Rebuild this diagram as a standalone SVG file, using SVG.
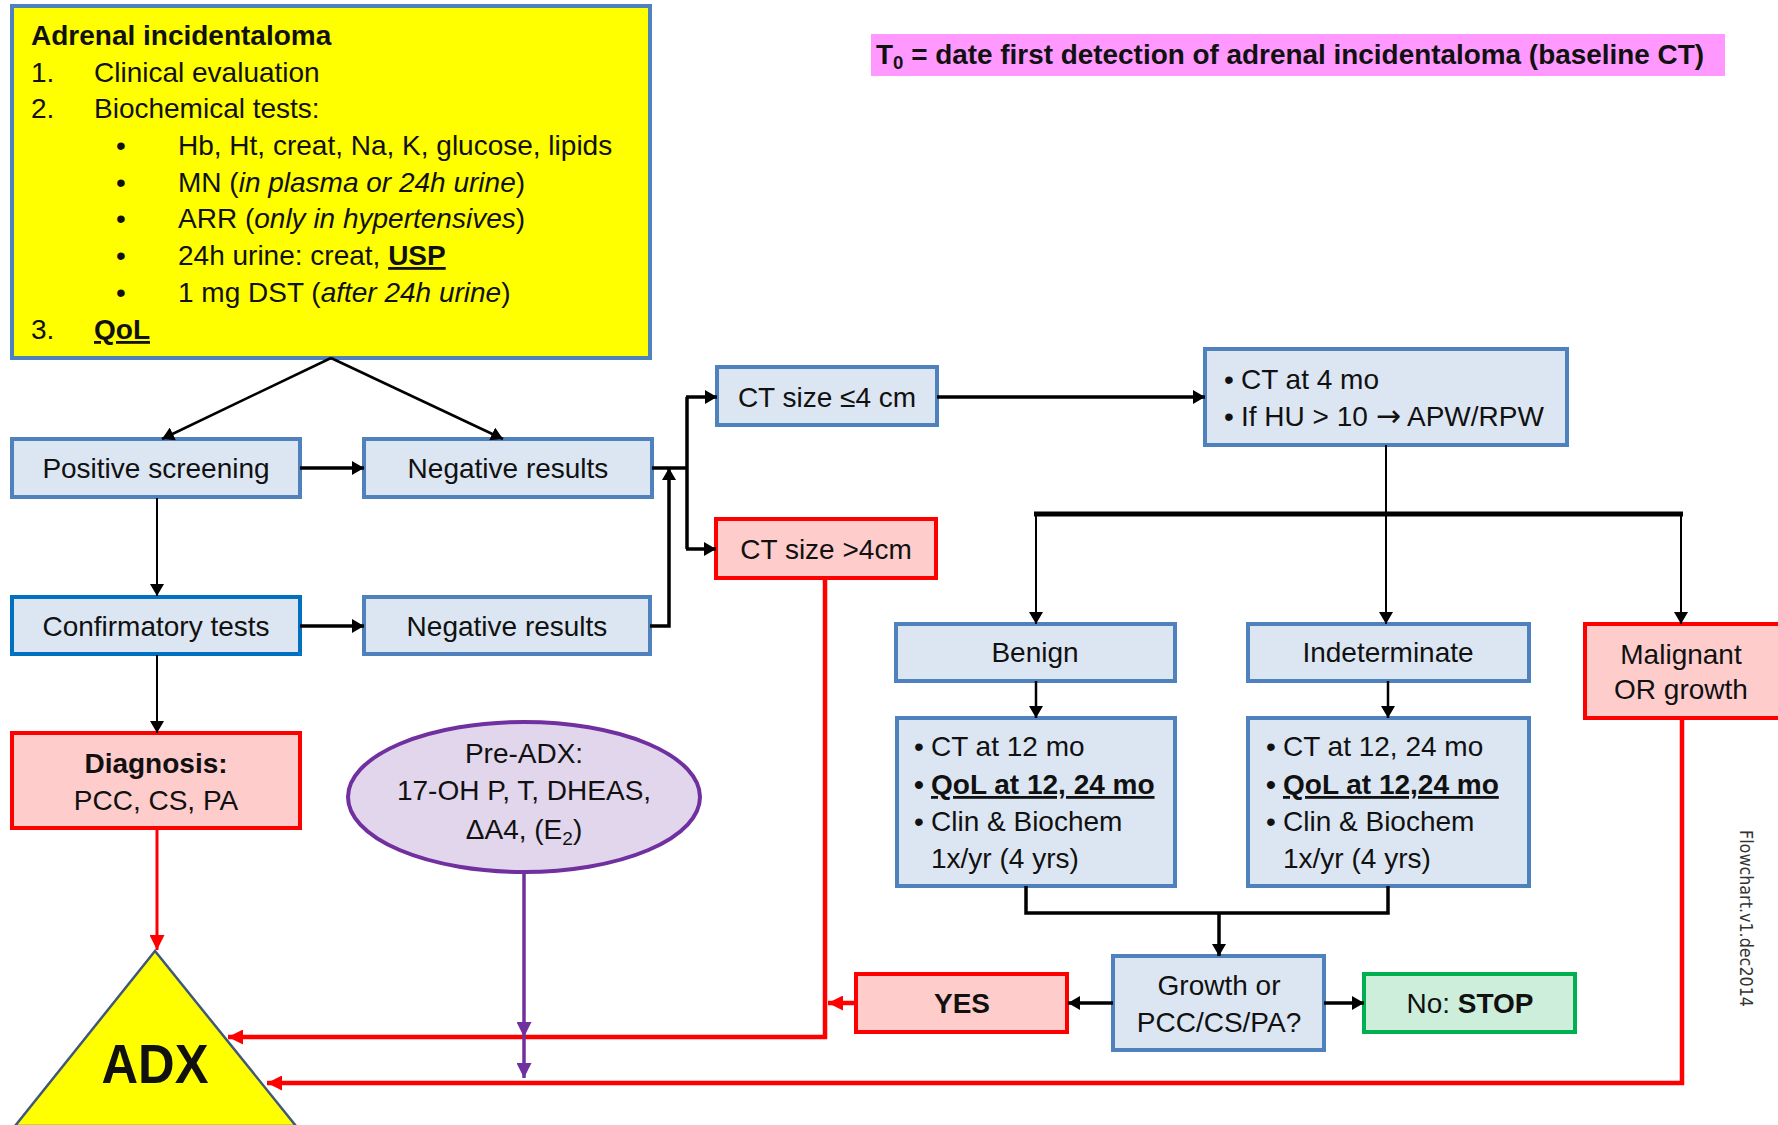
<svg xmlns="http://www.w3.org/2000/svg" width="1778" height="1125" viewBox="0 0 1778 1125">
<style>
  text { font-family: "Liberation Sans", Arial, sans-serif; font-size: 28px; fill: #111; }
  .c { text-anchor: middle; }
  .b { font-weight: bold; }
  .i { font-style: italic; }
  .u { text-decoration: underline; }
  .blue { fill: #DCE6F2; stroke: #4F81BD; stroke-width: 4; }
  .blue2 { fill: #DCE6F2; stroke: #0070C0; stroke-width: 4; }
  .red { fill: #FFCCCC; stroke: #FF0000; stroke-width: 4; }
  .green { fill: #CCEEDA; stroke: #00B050; stroke-width: 4; }
  .k1 { fill: none; stroke: #000; stroke-width: 2; }
  .k2 { fill: none; stroke: #000; stroke-width: 3.5; }
  .r1 { fill: none; stroke: #FF0000; stroke-width: 3; }
  .r2 { fill: none; stroke: #FF0000; stroke-width: 4.5; }
  .p1 { fill: none; stroke: #7030A0; stroke-width: 3.5; }
</style>
<defs>
  <marker id="ak" viewBox="0 0 12 14" refX="12" refY="7" markerWidth="12" markerHeight="14" markerUnits="userSpaceOnUse" orient="auto"><path d="M0,0 L12,7 L0,14 z" fill="#000"/></marker>
  <marker id="ar" viewBox="0 0 12 12" refX="12" refY="6" markerWidth="15" markerHeight="15" markerUnits="userSpaceOnUse" orient="auto"><path d="M0,0 L12,6 L0,12 z" fill="#FF0000"/></marker>
  <marker id="ap" viewBox="0 0 12 12" refX="12" refY="6" markerWidth="15" markerHeight="15" markerUnits="userSpaceOnUse" orient="auto"><path d="M0,0 L12,6 L0,12 z" fill="#7030A0"/></marker>
</defs>
<rect width="1778" height="1125" fill="#fff"/>

<g id="start">
  <rect x="12" y="6" width="638" height="352" fill="#FFFF00" stroke="#4F81BD" stroke-width="4"/>
  <text x="31" y="45" class="b">Adrenal incidentaloma</text>
  <text x="31" y="82">1.</text><text x="94" y="82">Clinical evaluation</text>
  <text x="31" y="118">2.</text><text x="94" y="118">Biochemical tests:</text>
  <text x="116" y="155">•</text><text x="178" y="155">Hb, Ht, creat, Na, K, glucose, lipids</text>
  <text x="116" y="192">•</text><text x="178" y="192">MN (<tspan class="i">in plasma or 24h urine</tspan>)</text>
  <text x="116" y="228">•</text><text x="178" y="228">ARR (<tspan class="i">only in hypertensives</tspan>)</text>
  <text x="116" y="265">•</text><text x="178" y="265">24h urine: creat, <tspan class="b u">USP</tspan></text>
  <text x="116" y="302">•</text><text x="178" y="302">1 mg DST (<tspan class="i">after 24h urine</tspan>)</text>
  <text x="31" y="339">3.</text><text x="94" y="339" class="b u">QoL</text>
</g>

<g id="t0note">
  <rect x="871" y="34" width="854" height="42" fill="#FF99FF"/>
  <text x="876" y="64" class="b" style="font-size:27px" textLength="828" lengthAdjust="spacingAndGlyphs">T<tspan style="font-size:18px" dy="5">0</tspan><tspan dy="-5"> = date first detection of adrenal incidentaloma (baseline CT)</tspan></text>
</g>

<g id="positive">
  <rect class="blue" x="12" y="439" width="288" height="58"/>
  <text class="c" x="156" y="478">Positive screening</text>
</g>
<g id="neg1">
  <rect class="blue" x="364" y="439" width="288" height="58"/>
  <text class="c" x="508" y="478">Negative results</text>
</g>
<g id="confirm">
  <rect class="blue2" x="12" y="597" width="288" height="57"/>
  <text class="c" x="156" y="636">Confirmatory tests</text>
</g>
<g id="neg2">
  <rect class="blue" x="364" y="597" width="286" height="57"/>
  <text class="c" x="507" y="636">Negative results</text>
</g>
<g id="ctsmall">
  <rect class="blue" x="717" y="367" width="220" height="58"/>
  <text class="c" x="827" y="407">CT size ≤4 cm</text>
</g>
<g id="ctlarge">
  <rect class="red" x="716" y="519" width="220" height="59"/>
  <text class="c" x="826" y="559">CT size &gt;4cm</text>
</g>
<g id="ct4mo">
  <rect class="blue" x="1205" y="349" width="362" height="96"/>
  <text x="1224" y="389">•</text><text x="1241" y="389">CT at 4 mo</text>
  <text x="1224" y="426">•</text><text x="1241" y="426">If HU &gt; 10 <tspan style="font-family:'DejaVu Sans',sans-serif;font-size:30px">→</tspan> APW/RPW</text>
</g>
<g id="benign">
  <rect class="blue" x="896" y="624" width="279" height="57"/>
  <text class="c" x="1035" y="662">Benign</text>
</g>
<g id="indeterminate">
  <rect class="blue" x="1248" y="624" width="281" height="57"/>
  <text class="c" x="1388" y="662">Indeterminate</text>
</g>
<g id="malignant">
  <rect class="red" x="1585" y="624" width="196" height="94"/>
  <text class="c" x="1681" y="664">Malignant</text>
  <text class="c" x="1681" y="699">OR growth</text>
</g>
<g id="benignplan">
  <rect class="blue" x="897" y="718" width="278" height="168"/>
  <text x="914" y="756">•</text><text x="931" y="756">CT at 12 mo</text>
  <text x="914" y="794" class="b">•</text><text x="931" y="794" class="b u">QoL at 12, 24 mo</text>
  <text x="914" y="831">•</text><text x="931" y="831">Clin &amp; Biochem</text>
  <text x="931" y="868">1x/yr (4 yrs)</text>
</g>
<g id="indetplan">
  <rect class="blue" x="1248" y="718" width="281" height="168"/>
  <text x="1266" y="756">•</text><text x="1283" y="756">CT at 12, 24 mo</text>
  <text x="1266" y="794" class="b">•</text><text x="1283" y="794" class="b u">QoL at 12,24 mo</text>
  <text x="1266" y="831">•</text><text x="1283" y="831">Clin &amp; Biochem</text>
  <text x="1283" y="868">1x/yr (4 yrs)</text>
</g>
<g id="diagnosis">
  <rect class="red" x="12" y="733" width="288" height="95"/>
  <text class="c b" x="156" y="773">Diagnosis:</text>
  <text class="c" x="156" y="810">PCC, CS, PA</text>
</g>
<g id="preadx">
  <ellipse cx="524" cy="797" rx="176" ry="75" fill="#E1D6EC" stroke="#7030A0" stroke-width="4"/>
  <text class="c" x="524" y="763">Pre-ADX:</text>
  <text class="c" x="524" y="800">17-OH P, T, DHEAS,</text>
  <text class="c" x="524" y="839">ΔA4, (E<tspan style="font-size:19px" dy="6">2</tspan><tspan dy="-6">)</tspan></text>
</g>
<g id="growth">
  <rect class="blue" x="1113" y="956" width="211" height="94"/>
  <text class="c" x="1219" y="995">Growth or</text>
  <text class="c" x="1219" y="1032">PCC/CS/PA?</text>
</g>
<g id="yes">
  <rect class="red" x="856" y="974" width="211" height="58"/>
  <text class="c b" x="962" y="1013">YES</text>
</g>
<g id="stop">
  <rect class="green" x="1364" y="974" width="211" height="58"/>
  <text class="c" x="1470" y="1013">No: <tspan class="b">STOP</tspan></text>
</g>
<g id="adx">
  <polygon points="155,951 15,1126 296,1126" fill="#FFFF00" stroke="#41587A" stroke-width="2.5"/>
  <text class="c b" x="155" y="1083" style="font-size:56px" textLength="107" lengthAdjust="spacingAndGlyphs">ADX</text>
</g>

<g id="connectors">
  <path class="k1" d="M331,358 L162,439" style="stroke-width:2.5" marker-end="url(#ak)"/>
  <path class="k1" d="M331,358 L503,439" style="stroke-width:2.5" marker-end="url(#ak)"/>
  <path class="k1" d="M157,498 V596" marker-end="url(#ak)"/>
  <path class="k1" d="M157,655 V733" marker-end="url(#ak)"/>
  <path class="k2" d="M300,468 H364" marker-end="url(#ak)"/>
  <path class="k2" d="M300,626 H364" marker-end="url(#ak)"/>
  <path class="k2" d="M652,468 H687"/>
  <path class="k2" d="M687,397 V549"/>
  <path class="k2" d="M686,397 H717" marker-end="url(#ak)"/>
  <path class="k2" d="M686,549 H716" marker-end="url(#ak)"/>
  <path class="k2" d="M650,626 H669 V468" marker-end="url(#ak)"/>
  <path class="k2" d="M937,397 H1205" marker-end="url(#ak)"/>
  <path class="k1" d="M1386,445 V624" marker-end="url(#ak)"/>
  <path class="k2" d="M1034,514 H1683" style="stroke-width:5"/>
  <path class="k1" d="M1036,514 V624" marker-end="url(#ak)"/>
  <path class="k1" d="M1681,514 V624" marker-end="url(#ak)"/>
  <path class="k1" d="M1036,681 V718" style="stroke-width:2.5" marker-end="url(#ak)"/>
  <path class="k1" d="M1388,681 V718" style="stroke-width:2.5" marker-end="url(#ak)"/>
  <path class="k2" d="M1026,886 V913 H1388 V886"/>
  <path class="k2" d="M1219,913 V956" marker-end="url(#ak)"/>
  <path class="k2" d="M1113,1003 H1068" marker-end="url(#ak)"/>
  <path class="k2" d="M1324,1003 H1364" marker-end="url(#ak)"/>
  <path class="r1" d="M157,828 V950" marker-end="url(#ar)"/>
  <path class="r2" d="M825,578 V1037 H228" marker-end="url(#ar)"/>
  <path class="r2" d="M856,1003 H828" marker-end="url(#ar)"/>
  <path class="r2" d="M1682,718 V1083 H267" marker-end="url(#ar)"/>
  <path class="p1" d="M524,872 V1037" marker-end="url(#ap)"/>
  <path class="p1" d="M524,1037 V1078" marker-end="url(#ap)"/>
</g>

<text x="1740" y="830" transform="rotate(90 1740 830)" style="font-family:'DejaVu Sans',sans-serif;font-size:17px;fill:#333" textLength="177" lengthAdjust="spacingAndGlyphs">Flowchart.v1.dec2014</text>
</svg>
